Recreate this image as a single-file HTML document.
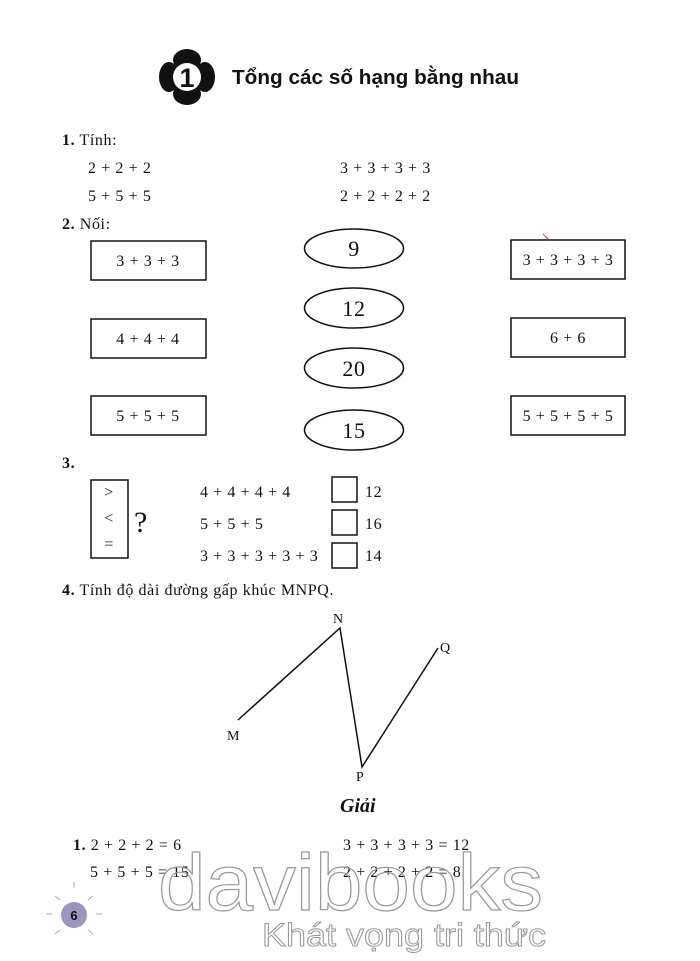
<!DOCTYPE html>
<html><head><meta charset="utf-8"><style>
html,body{margin:0;padding:0;background:#fff}
svg{display:block}
.s{font-family:"Liberation Serif",serif;font-size:16px;letter-spacing:0.6px;fill:#111}
.b{font-weight:bold}
</style></head><body>
<svg width="700" height="961" viewBox="0 0 700 961" xmlns="http://www.w3.org/2000/svg">
<g fill="#111">
<ellipse cx="187" cy="60" rx="14" ry="11"/>
<ellipse cx="187" cy="94" rx="14" ry="11"/>
<ellipse cx="169" cy="77" rx="10" ry="15"/>
<ellipse cx="205" cy="77" rx="10" ry="15"/>
<circle cx="187" cy="77" r="17"/>
</g>
<circle cx="187" cy="77" r="14" fill="#fff"/>
<text x="187" y="87" text-anchor="middle" font-family="Liberation Sans,sans-serif" font-weight="bold" font-size="27" fill="#111">1</text>
<text x="232" y="84" font-family="Liberation Sans,sans-serif" font-weight="bold" font-size="20.5" fill="#111" textLength="287" lengthAdjust="spacingAndGlyphs">Tổng các số hạng bằng nhau</text>

<text class="s" x="62" y="145"><tspan class="b">1.</tspan> Tính:</text>
<text class="s" x="88" y="173">2 + 2 + 2</text>
<text class="s" x="88" y="201">5 + 5 + 5</text>
<text class="s" x="340" y="173">3 + 3 + 3 + 3</text>
<text class="s" x="340" y="201">2 + 2 + 2 + 2</text>
<text class="s" x="62" y="229"><tspan class="b">2.</tspan> Nối:</text>

<g fill="none" stroke="#111" stroke-width="1.5">
<rect x="91" y="241" width="115" height="39"/>
<rect x="91" y="319" width="115" height="39"/>
<rect x="91" y="396" width="115" height="39"/>
<rect x="511" y="240" width="114" height="39"/>
<rect x="511" y="318" width="114" height="39"/>
<rect x="511" y="396" width="114" height="39"/>
<ellipse cx="354" cy="248.5" rx="49.5" ry="19.5"/>
<ellipse cx="354" cy="308" rx="49.5" ry="20"/>
<ellipse cx="354" cy="368" rx="49.5" ry="20"/>
<ellipse cx="354" cy="430" rx="49.5" ry="20"/>
<rect x="91" y="480" width="37" height="78"/>
<rect x="332" y="477" width="25" height="25"/>
<rect x="332" y="510" width="25" height="25"/>
<rect x="332" y="543" width="25" height="25"/>
<polyline points="238,720 340,628 362,767 438,648"/>
</g>
<path d="M543 234 l6 6" stroke="#b44" stroke-width="1"/>
<text class="s" x="148" y="266" text-anchor="middle">3 + 3 + 3</text>
<text class="s" x="148" y="344" text-anchor="middle">4 + 4 + 4</text>
<text class="s" x="148" y="421" text-anchor="middle">5 + 5 + 5</text>
<text class="s" x="568" y="265" text-anchor="middle">3 + 3 + 3 + 3</text>
<text class="s" x="568" y="343" text-anchor="middle">6 + 6</text>
<text class="s" x="568" y="421" text-anchor="middle">5 + 5 + 5 + 5</text>
<text class="s" x="354" y="256" text-anchor="middle" style="font-size:22px">9</text>
<text class="s" x="354" y="316" text-anchor="middle" style="font-size:22px">12</text>
<text class="s" x="354" y="376" text-anchor="middle" style="font-size:22px">20</text>
<text class="s" x="354" y="438" text-anchor="middle" style="font-size:22px">15</text>

<text class="s b" x="62" y="468">3.</text>
<text class="s" x="109" y="497" text-anchor="middle">&gt;</text>
<text class="s" x="109" y="523" text-anchor="middle">&lt;</text>
<text class="s" x="109" y="549" text-anchor="middle">=</text>
<text class="s" x="134" y="532" style="font-size:30px">?</text>
<text class="s" x="200" y="497">4 + 4 + 4 + 4</text>
<text class="s" x="200" y="529">5 + 5 + 5</text>
<text class="s" x="200" y="561">3 + 3 + 3 + 3 + 3</text>
<text class="s" x="365" y="497">12</text>
<text class="s" x="365" y="529">16</text>
<text class="s" x="365" y="561">14</text>

<text class="s" x="62" y="595"><tspan class="b">4.</tspan> Tính độ dài đường gấp khúc MNPQ.</text>
<text class="s" x="333" y="623" style="font-size:14px">N</text>
<text class="s" x="440" y="652" style="font-size:14px">Q</text>
<text class="s" x="227" y="740" style="font-size:14px">M</text>
<text class="s" x="356" y="781" style="font-size:14px">P</text>

<text x="340" y="812" font-family="Liberation Serif,serif" font-style="italic" font-weight="bold" font-size="20" fill="#111">Giải</text>

<text class="s" x="73" y="850"><tspan class="b">1.</tspan> 2 + 2 + 2 = 6</text>
<text class="s" x="90" y="877">5 + 5 + 5 = 15</text>
<text class="s" x="343" y="850">3 + 3 + 3 + 3 = 12</text>
<text class="s" x="343" y="877">2 + 2 + 2 + 2 = 8</text>

<g stroke="#aab" stroke-width="1" fill="none">
<path d="M74 888 l0 -6 M60 900 l-5 -4 M88 900 l5 -4 M60 930 l-5 4 M88 930 l5 4 M52 914 l-6 0 M96 914 l6 0"/>
</g>
<circle cx="74" cy="915" r="13" fill="#9a96c0"/>
<text x="74" y="920" text-anchor="middle" font-family="Liberation Sans,sans-serif" font-weight="bold" font-size="13" fill="#111">6</text>

<text x="158" y="910" font-family="Liberation Sans,sans-serif" font-size="80" fill="none" stroke="#999" stroke-width="1.2" textLength="385" lengthAdjust="spacingAndGlyphs">davibooks</text>
<text x="262" y="946" font-family="Liberation Sans,sans-serif" font-size="32" fill="none" stroke="#999" stroke-width="1" textLength="284" lengthAdjust="spacingAndGlyphs">Khát vọng tri thức</text>
</svg>
</body></html>
